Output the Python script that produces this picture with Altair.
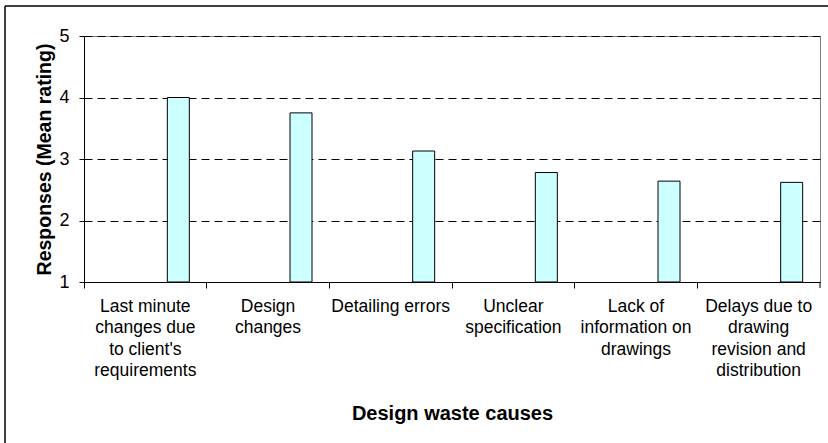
import altair as alt
import pandas as pd

categories = [
    "Last minute|changes due|to client's|requirements",
    "Design|changes",
    "Detailing errors",
    "Unclear|specification",
    "Lack of|information on|drawings",
    "Delays due to|drawing|revision and|distribution",
]
mean_rating = [4.0, 3.75, 3.13, 2.78, 2.64, 2.62]
axis_floor = 1

df = pd.DataFrame({"cause": categories, "rating": mean_rating})

W, H = 736, 246
FONT = "Liberation Sans"

base = alt.Chart(df)

bars = base.mark_bar(
    width=22, xOffset=33, fill="#CCFFFF", stroke="black", strokeWidth=1
).encode(
    x=alt.X(
        "cause:N",
        sort=None,
        scale=alt.Scale(paddingInner=0, paddingOuter=0),
        axis=alt.Axis(
            title="Design waste causes",
            titleFont=FONT,
            titleFontSize=20,
            titleFontWeight="bold",
            titleColor="black",
            titleY=137,
            titleBaseline="alphabetic",
            labelExpr="split(datum.label, '|')",
            labelFont=FONT,
            labelFontSize=17.5,
            labelColor="black",
            labelAngle=0,
            labelLineHeight=21.5,
            labelPadding=9,
            labelBaseline="top",
            bandPosition=0,
            domainColor="black",
            tickColor="black",
            tickSize=6,
            labelLimit=200,
        ),
    ),
    y=alt.Y(
        "rating:Q",
        scale=alt.Scale(domain=[1, 5], nice=False, zero=False),
        axis=alt.Axis(
            title="Responses (Mean rating)",
            values=[1, 2, 3, 4, 5],
            titleFont=FONT,
            titleFontSize=19.5,
            titleFontWeight="bold",
            titleColor="black",
            titleX=-34,
            titleBaseline="alphabetic",
            labelFont=FONT,
            labelFontSize=18,
            labelColor="black",
            labelPadding=10,
            domainColor="black",
            tickColor="black",
            tickSize=5,
            grid=True,
            gridColor="black",
            gridDash=[8, 5],
            gridWidth=1,
        ),
    ),
    y2=alt.datum(axis_floor),
)

end_tick = alt.Chart(alt.Data(values=[{}])).mark_rule(color="black").encode(
    x=alt.value(W), y=alt.value(H), y2=alt.value(H + 6)
)

frame_top = alt.Chart(alt.Data(values=[{}])).mark_rule(
    color="black", strokeWidth=1.5
).encode(x=alt.value(-79), x2=alt.value(W + 8), y=alt.value(-30))

frame_left = alt.Chart(alt.Data(values=[{}])).mark_rule(
    color="black", strokeWidth=1.5
).encode(x=alt.value(-79), y=alt.value(-30), y2=alt.value(H + 161))

chart = alt.layer(bars, end_tick, frame_top, frame_left).properties(
    width=W,
    height=H,
    autosize=alt.AutoSizeParams(type="none"),
    padding={"left": 84, "top": 36, "right": 8, "bottom": 161},
    background="white",
).configure_view(stroke="#808080", strokeWidth=1)

chart.save("out.html", embed_options={"renderer": "svg", "actions": False})
